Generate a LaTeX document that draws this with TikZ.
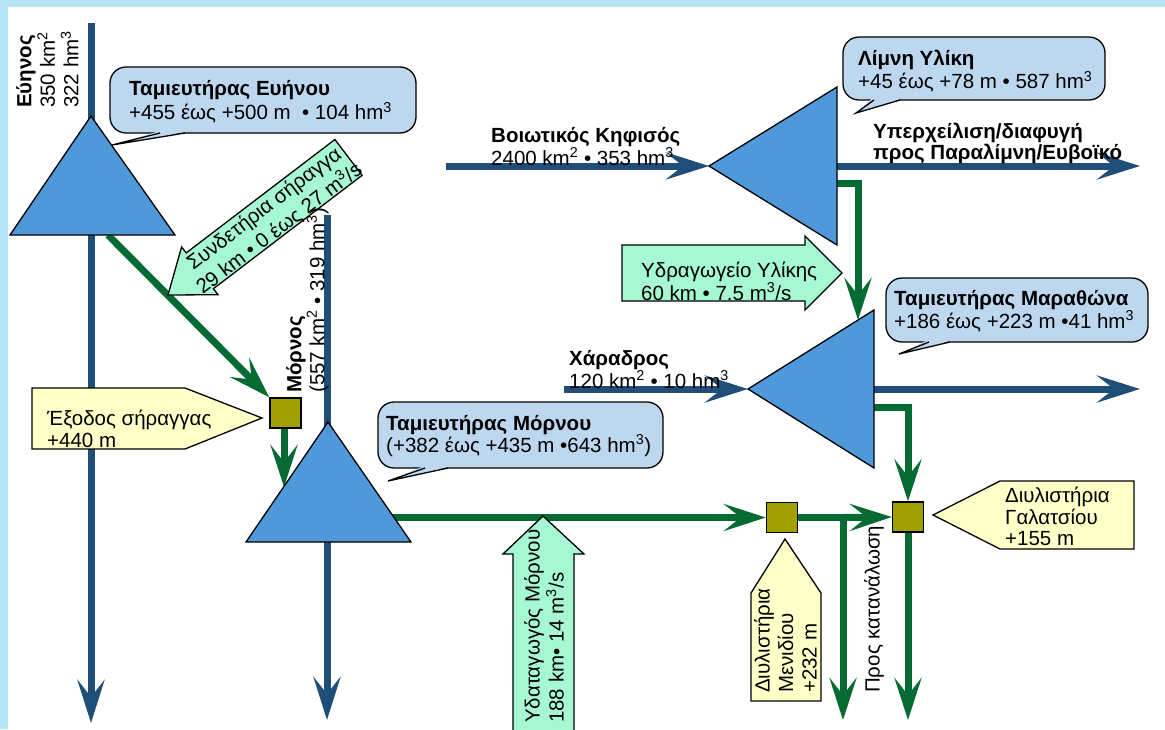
\documentclass[tikz,border=0pt]{standalone}
\usepackage{fontspec}
\setmainfont{Liberation Sans}
\usetikzlibrary{arrows.meta}
\definecolor{frame}{HTML}{B5E4F6}
\definecolor{river}{HTML}{1F4E79}
\definecolor{lake}{HTML}{4F98D9}
\definecolor{bubble}{HTML}{BDD7EE}
\definecolor{pipe}{HTML}{056B33}
\definecolor{mint}{HTML}{A6F8D2}
\definecolor{note}{HTML}{FFFFC8}
\definecolor{plant}{HTML}{A0A000}
\newcommand{\sq}[1]{\textsuperscript{#1}}
\begin{document}
\begin{tikzpicture}[x=1pt,y=-1pt,
  font=\fontsize{20.5}{23}\selectfont,
  riv/.style={river, line width=7pt, -{Stealth[length=43pt,width=27pt,inset=17pt]}},
  flow/.style={pipe, line width=7pt, line join=miter, -{Stealth[length=42pt,width=27pt,inset=17pt]}},
  lk/.style={fill=lake, draw=black, line width=1.3pt, line join=miter},
  plantbox/.style={fill=plant, draw=black, line width=1.3pt, minimum width=31pt, minimum height=30pt, inner sep=0pt},
  blockarrow/.style={fill=mint, draw=black, line width=1.3pt, line join=miter},
  callout/.style={fill=bubble, draw=black, line width=1.3pt, rounded corners=16pt},
  tail/.style={draw=black, line width=1.3pt, line join=miter},
  tag/.style={fill=note, draw=black, line width=1.3pt, line join=miter},
  txt/.style={inner sep=0pt, align=left, anchor=north west}
]
\useasboundingbox (0,0) rectangle (1165,729);
\clip (0,0) rectangle (1165,729);
% frame
\fill[frame] (0,0) rectangle (1165,729);
\fill[white] (7.5,7) rectangle (1165,729);

% ---- reservoirs (vertices) ----
\coordinate (evA) at (91,116);  \coordinate (evL) at (10,235);  \coordinate (evR) at (175,235);
\coordinate (moA) at (328,422); \coordinate (moL) at (246,542); \coordinate (moR) at (411,542);
\coordinate (ylA) at (709,166); \coordinate (ylT) at (837,87);  \coordinate (ylB) at (837,245);
\coordinate (maA) at (748,389); \coordinate (maT) at (874,310); \coordinate (maB) at (874,468);

% ---- treatment plants ----
\node[plantbox] (msq) at (285.5,413) {};
\node[plantbox] (men) at (782,517.5) {};
\node[plantbox] (gal) at (908,517) {};

% ---- rivers ----
\coordinate (evSrc) at (91,23);   \coordinate (evOut) at (91,723);
\coordinate (moSrc) at (327,215); \coordinate (moOut) at (327,720);
\coordinate (kfSrc) at (446,166);
\coordinate (ylOutS) at (837,166); \coordinate (ylOut) at (1140,166);
\coordinate (chSrc) at (564,389);
\coordinate (maOutS) at (874,389); \coordinate (maOut) at (1140,389);
\draw[riv] (evSrc) -- (evOut);
\draw[riv] (moSrc) -- (moOut);
\draw[riv] (kfSrc) -- (ylA);
\draw[riv] (ylOutS) -- (ylOut);
\draw[riv] (chSrc) -- (maA);
\draw[riv] (maOutS) -- (maOut);

% ---- water transfer ----
\coordinate (tunS) at (108,235);
\draw[flow] (tunS) -- (msq.north west);
\coordinate (moIn) at (284,487);
\draw[flow] (msq.south -| moIn) -- (moIn);
\coordinate (aqS) at (392,517.5);
\draw[flow] (aqS) -- (men.west);
\coordinate (mbr) at (843,517.5);
\coordinate (mOut) at (843,720);
\draw[flow] (men.east) -- (mbr) -- (mOut);
\draw[flow] (mbr) -- (gal.west);
\coordinate (ylG) at (837,183); \coordinate (ylG2) at (858,183); \coordinate (maIn) at (858,320);
\draw[flow] (ylG) -- (ylG2) -- (maIn);
\coordinate (maG) at (874,407); \coordinate (maG2) at (908,407);
\draw[flow] (maG) -- (maG2) -- (gal.north);
\coordinate (gOut) at (908,720);
\draw[flow] (gal.south) -- (gOut);

% ---- reservoir triangles ----
\filldraw[lk] (evA) -- (evL) -- (evR) -- cycle;
\filldraw[lk] (moA) -- (moL) -- (moR) -- cycle;
\filldraw[lk] (ylA) -- (ylT) -- (ylB) -- cycle;
\filldraw[lk] (maA) -- (maT) -- (maB) -- cycle;

% ---- block arrows ----
% connecting tunnel
\filldraw[blockarrow] (168,295) -- (218,294.7) -- (213.4,288.7) -- (362.1,175.3)
  -- (334.9,139.5) -- (186.2,252.9) -- (181.6,246.9) -- cycle;
% Yliki pumping line
\filldraw[blockarrow] (622,245) -- (805,245) -- (805,236) -- (842,273) -- (805,310)
  -- (805,301) -- (622,301) -- cycle;
% Mornos aqueduct
\filldraw[blockarrow] (543,516) -- (584,554) -- (574,554) -- (574,740) -- (513,740)
  -- (513,554) -- (503,554) -- cycle;

% ---- callouts ----
\draw[callout] (110,67) rectangle (416,133);
\fill[bubble] (158,131.5) -- (112,145) -- (188,131.5) -- cycle;
\draw[tail] (160,133) -- (112,145) -- (185,133);

\draw[callout] (378,402) rectangle (663,468);
\fill[bubble] (423,466.5) -- (388,481) -- (450,466.5) -- cycle;
\draw[tail] (425,468) -- (388,481) -- (448,468);

\draw[callout] (843,37) rectangle (1105,100);
\fill[bubble] (872,98.5) -- (856,113) -- (902,98.5) -- cycle;
\draw[tail] (874,100) -- (856,113) -- (900,100);

\draw[callout] (886,278) rectangle (1148,342);
\fill[bubble] (927,340.5) -- (899,354) -- (952,340.5) -- cycle;
\draw[tail] (929,342) -- (899,354) -- (950,342);

% ---- tags ----
\filldraw[tag] (32,388) -- (185,388) -- (262,418) -- (185,449) -- (32,449) -- cycle;
\filldraw[tag] (933,515) -- (1000,481) -- (1134,481) -- (1134,549) -- (1000,549) -- cycle;
\filldraw[tag] (785,539) -- (821,593) -- (821,701) -- (751,701) -- (751,593) -- cycle;

% ---- texts ----
\node[txt, rotate=90, font=\fontsize{20.5}{23.5}\selectfont] (tEv) at (16,108)
  {\textbf{Εύηνος}\\350 km\sq{2}\\322 hm\sq{3}};
\node[txt, font=\fontsize{20.5}{24.5}\selectfont] (tEvR) at (129,80)
  {\textbf{Ταμιευτήρας Ευήνου}\\+455 έως +500 m \ • 104 hm\sq{3}};
\node[inner sep=0pt, align=center, rotate=37.3, font=\fontsize{20.5}{25}\selectfont] (tTun) at (272,219)
  {Συνδετήρια σήραγγα\\29 km • 0 έως 27 m\sq{3}/s};
\node[txt, rotate=90] (tMo) at (286,393)
  {\textbf{Μόρνος}\\(557 km\sq{2} • 319 hm\sq{3})};
\node[txt, font=\fontsize{20.5}{22}\selectfont] (tExit) at (47,410)
  {Έξοδος σήραγγας\\+440 m};
\node[txt, font=\fontsize{20.5}{22}\selectfont] (tMoR) at (386,415)
  {\textbf{Ταμιευτήρας Μόρνου}\\(+382 έως +435 m •643 hm\sq{3})};
\node[txt, rotate=90, font=\fontsize{20.5}{24}\selectfont] (tAq) at (524,723)
  {Υδαταγωγός Μόρνου\\188 km• 14 m\sq{3}/s};
\node[txt, font=\fontsize{20.5}{19}\selectfont] (tKf) at (491,127)
  {\textbf{Βοιωτικός Κηφισός}\\2400 km\sq{2} • 353 hm\sq{3}};
\node[txt, font=\fontsize{20.5}{19.5}\selectfont\bfseries] (tOver) at (873,123)
  {Υπερχείλιση/διαφυγή\\προς Παραλίμνη/Ευβοϊκό};
\node[txt] (tYl) at (858,50)
  {\textbf{Λίμνη Υλίκη}\\+45 έως +78 m • 587 hm\sq{3}};
\node[txt, font=\fontsize{20.5}{21}\selectfont] (tPump) at (641,262)
  {Υδραγωγείο Υλίκης\\60 km • 7.5 m\sq{3}/s};
\node[txt] (tMa) at (894,290)
  {\textbf{Ταμιευτήρας Μαραθώνα}\\+186 έως +223 m •41 hm\sq{3}};
\node[txt, font=\fontsize{20.5}{20}\selectfont] (tCh) at (569,350)
  {\textbf{Χάραδρος}\\120 km\sq{2} • 10 hm\sq{3}};
\node[txt, font=\fontsize{20.5}{21.5}\selectfont] (tGal) at (1005,487)
  {Διυλιστήρια\\Γαλατσίου\\+155 m};
\node[txt, rotate=90, font=\fontsize{20.5}{23.5}\selectfont] (tMen) at (754,693)
  {Διυλιστήρια\\Μενιδίου\\+232 m};
\node[txt, rotate=90] (tUse) at (864,693) {Προς κατανάλωση};
\end{tikzpicture}
\end{document}
